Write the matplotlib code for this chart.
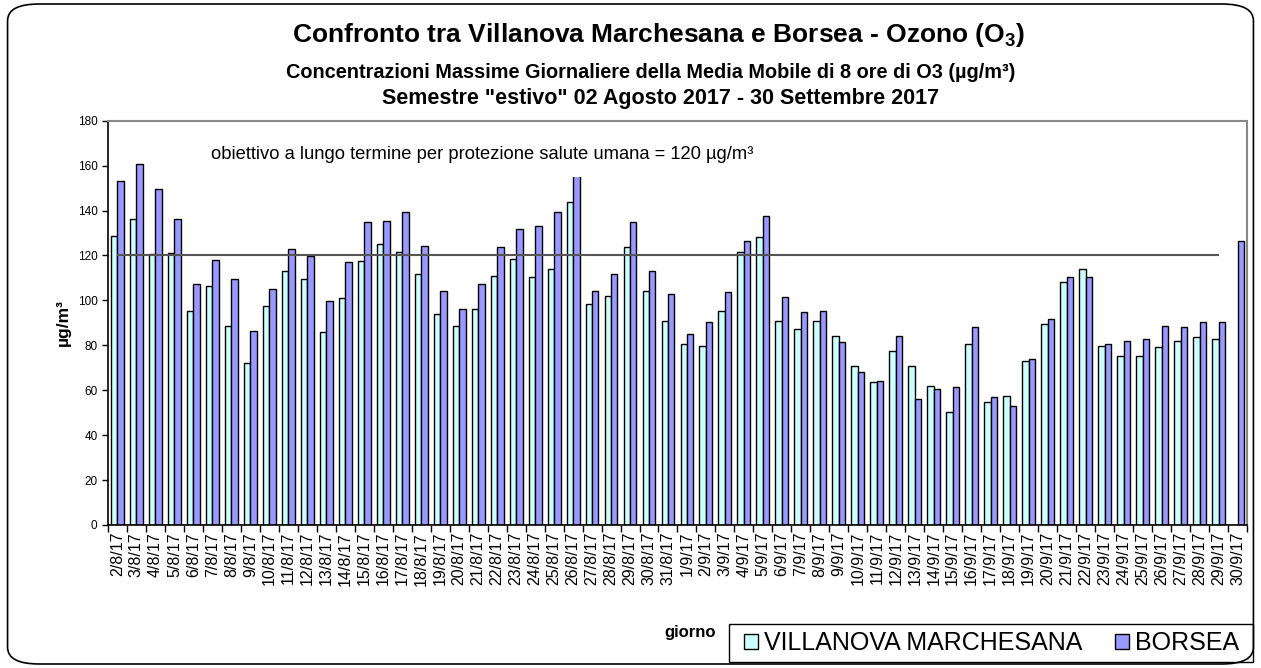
import numpy as np
import pandas as pd
import matplotlib
matplotlib.use("Agg")
import matplotlib.pyplot as plt
from matplotlib.patches import FancyBboxPatch, Patch, Rectangle

plt.rcParams["font.family"] = ["Liberation Sans", "DejaVu Sans"]
plt.rcParams["mathtext.fontset"] = "custom"
plt.rcParams["mathtext.rm"] = "Liberation Sans:bold"
plt.rcParams["mathtext.bf"] = "Liberation Sans:bold"

# giorni 2/8/17 -> 30/9/17
giorni = [f"{d.day}/{d.month}/17" for d in pd.date_range("2017-08-02", "2017-09-30")]

villanova = [128.6, 136.2, 120.6, 121.2, 95.3, 106.5, 88.6, 72.3, 97.6, 113.1,
             109.3, 85.8, 101.2, 117.7, 125.1, 121.4, 111.7, 93.9, 88.7, 96.1,
             111.0, 118.4, 110.2, 113.9, 143.6, 98.4, 102.1, 123.6, 104.3, 91.0,
             80.6, 79.8, 95.4, 121.4, 128.0, 91.0, 87.2, 91.0, 84.3, 70.9,
             63.5, 77.6, 70.9, 62.0, 50.1, 80.6, 54.6, 57.6, 73.1, 89.5,
             108.0, 113.9, 79.8, 75.4, 75.4, 79.1, 82.0, 83.5, 82.8, np.nan]
borsea = [153.3, 160.7, 149.6, 136.2, 107.3, 118.2, 109.3, 86.5, 105.0, 122.7,
          119.9, 99.9, 116.9, 134.7, 135.5, 139.2, 124.3, 104.3, 96.1, 107.3,
          123.6, 131.8, 133.2, 139.2, 165.0, 104.3, 111.7, 134.7, 113.2, 102.8,
          85.0, 90.2, 103.6, 126.6, 137.7, 101.3, 94.7, 95.4, 81.3, 68.0,
          64.2, 84.3, 56.1, 60.5, 61.3, 88.0, 56.8, 53.1, 73.9, 91.7,
          110.2, 110.2, 80.6, 82.0, 82.8, 88.7, 88.0, 90.2, 90.2, 126.6]
limite = 120

C_VIL = "#CCFFFF"
C_BOR = "#9999FF"

fig = plt.figure(figsize=(12.61, 6.68), dpi=100)
ax = fig.add_axes([0.0856, 0.2141, 0.9033, 0.6052])

x = np.arange(len(giorni))
w = 0.34
ax.bar(x - w / 2, villanova, width=w, color=C_VIL, edgecolor="black", linewidth=1.0, zorder=2)
ax.bar(x + w / 2, borsea, width=w, color=C_BOR, edgecolor="black", linewidth=1.0, zorder=2)
ax.hlines(limite, x[0], x[-2], color="#555555", linewidth=1.5, zorder=3)

ax.text(0.0904, 0.916, "obiettivo a lungo termine per protezione salute umana = 120 µg/m³",
        transform=ax.transAxes, fontsize=13.2, va="center", ha="left", zorder=4,
        bbox=dict(boxstyle="square,pad=0.75", facecolor="white", edgecolor="none"))

ax.set_xlim(-0.5, len(giorni) - 0.5)
ax.set_ylim(0, 180)
ax.set_yticks(range(0, 181, 20))
ax.tick_params(axis="y", labelsize=8.5, length=4, width=1, direction="out")
ax.set_xticks(x)
ax.set_xticklabels(giorni, rotation=90, fontsize=11.5)
ax.set_xticks(np.arange(-0.5, len(giorni), 1), minor=True)
ax.tick_params(axis="x", which="major", length=0, pad=5)
ax.tick_params(axis="x", which="minor", length=5, width=1, direction="out")

for s in ("top", "right"):
    ax.spines[s].set_color("#888888")
    ax.spines[s].set_linewidth(1.5)
for s in ("left", "bottom"):
    ax.spines[s].set_color("black")
    ax.spines[s].set_linewidth(1.2)

ax.set_ylabel("µg/m³", fontsize=12.5, fontweight="bold", labelpad=5)

fig.text(0.522, 0.947, "Confronto tra Villanova Marchesana e Borsea - Ozono (O$_{3}$)",
         ha="center", va="center", fontsize=19, fontweight="bold")
fig.text(0.516, 0.891, "Concentrazioni Massime Giornaliere della Media Mobile di 8 ore di O3 (µg/m³)",
         ha="center", va="center", fontsize=14.3, fontweight="bold")
fig.text(0.524, 0.853, "Semestre \"estivo\" 02 Agosto 2017 - 30 Settembre 2017",
         ha="center", va="center", fontsize=15.5, fontweight="bold")

fig.text(0.547, 0.053, "giorno", ha="center", va="center", fontsize=12, fontweight="bold")

# legenda: cornice rettangolare separata
fig.patches.append(Rectangle((0.578, 0.009), 0.416, 0.057, transform=fig.transFigure,
                             facecolor="white", edgecolor="black", linewidth=1.0))
handles = [Patch(facecolor=C_VIL, edgecolor="black", label="VILLANOVA MARCHESANA"),
           Patch(facecolor=C_BOR, edgecolor="black", label="BORSEA")]
leg = fig.legend(handles=handles, loc="center left", bbox_to_anchor=(0.590, 0.0375), ncol=2,
                 fontsize=18, frameon=False, borderpad=0, borderaxespad=0,
                 handlelength=0.55, handleheight=0.55, handletextpad=0.25,
                 columnspacing=1.3)

frame = FancyBboxPatch((0.006, 0.006), 0.988, 0.988, transform=fig.transFigure,
                       boxstyle="round,pad=0,rounding_size=0.025", facecolor="none",
                       edgecolor="black", linewidth=1.2)
fig.patches.append(frame)

fig.savefig("out.png", dpi=100)
